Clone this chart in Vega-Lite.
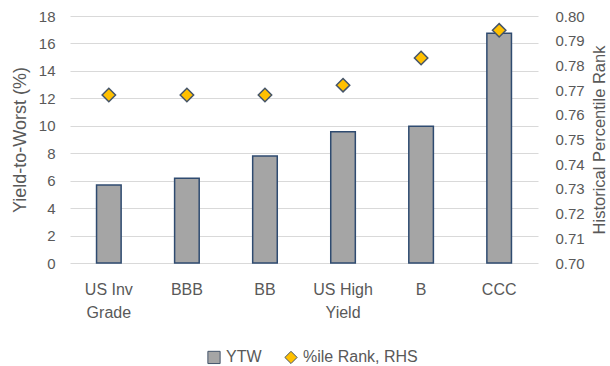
{
  "$schema": "https://vega.github.io/schema/vega-lite/v6.json",
  "autosize": "none",
  "width": 468,
  "height": 247,
  "padding": {"left": 70, "top": 16, "right": 72, "bottom": 103},
  "background": "white",
  "config": {
    "view": {"stroke": null},
    "font": "Liberation Sans",
    "axis": {"labelColor": "#595959", "titleColor": "#595959", "labelFontSize": 15, "titleFontSize": 16, "titleFontWeight": "normal", "domain": false, "ticks": false, "gridColor": "#d9d9d9", "gridWidth": 1.2}
  },
  "data": {"values": [
    {"cat": "US Inv Grade", "ytw": 5.68, "rank": 0.768},
    {"cat": "BBB", "ytw": 6.17, "rank": 0.768},
    {"cat": "BB", "ytw": 7.8, "rank": 0.768},
    {"cat": "US High Yield", "ytw": 9.57, "rank": 0.772},
    {"cat": "B", "ytw": 9.97, "rank": 0.783},
    {"cat": "CCC", "ytw": 16.75, "rank": 0.7942}
  ]},
  "encoding": {
    "x": {"field": "cat", "type": "nominal", "sort": null, "title": null,
      "scale": {"paddingInner": 0.685, "paddingOuter": 0.34},
      "axis": {"labelAngle": 0, "labelPadding": 18, "labelLineHeight": 23, "labelFontSize": 16, "grid": false,
        "labelExpr": "datum.label == 'US Inv Grade' ? ['US Inv', 'Grade'] : datum.label == 'US High Yield' ? ['US High', 'Yield'] : datum.label"}}
  },
  "layer": [
    {
      "mark": {"type": "bar", "stroke": "#2f4b70", "strokeWidth": 1.5},
      "encoding": {
        "y": {"field": "ytw", "type": "quantitative", "title": "Yield-to-Worst (%)",
          "scale": {"domain": [0, 18], "nice": false},
          "axis": {"values": [0, 2, 4, 6, 8, 10, 12, 14, 16, 18], "labelPadding": 15, "titlePadding": 9, "titleFontSize": 18}},
        "color": {"datum": "YTW", "type": "nominal",
          "scale": {"domain": ["YTW", "%ile Rank, RHS"], "range": ["#a5a5a5", "#ffc000"]},
          "legend": {"title": null, "orient": "none", "legendX": 136, "legendY": 333, "direction": "horizontal", "labelFontSize": 16, "labelColor": "#595959",
            "symbolSize": 150, "symbolStrokeColor": "#44546a", "symbolStrokeWidth": 1, "columnPadding": 20, "labelOffset": 4,
            "encode": {"symbols": {"update": {"shape": {"signal": "datum.value === 'YTW' ? 'square' : 'diamond'"}, "stroke": {"value": "#44546a"}, "strokeWidth": {"value": 1}}}}}
        }
      }
    },
    {
      "mark": {"type": "point", "shape": "diamond", "filled": true, "size": 180, "stroke": "#44546a", "strokeWidth": 1.5, "opacity": 1},
      "encoding": {
        "y": {"field": "rank", "type": "quantitative", "title": "Historical Percentile Rank",
          "scale": {"domain": [0.70, 0.80], "nice": false, "zero": false},
          "axis": {"orient": "right", "grid": false, "format": ".2f", "values": [0.70, 0.71, 0.72, 0.73, 0.74, 0.75, 0.76, 0.77, 0.78, 0.79, 0.80], "labelPadding": 17, "titlePadding": 23, "titleAngle": 270, "titleFontSize": 16.5}},
        "color": {"datum": "%ile Rank, RHS", "type": "nominal"}
      }
    }
  ],
  "resolve": {"scale": {"y": "independent"}}
}
